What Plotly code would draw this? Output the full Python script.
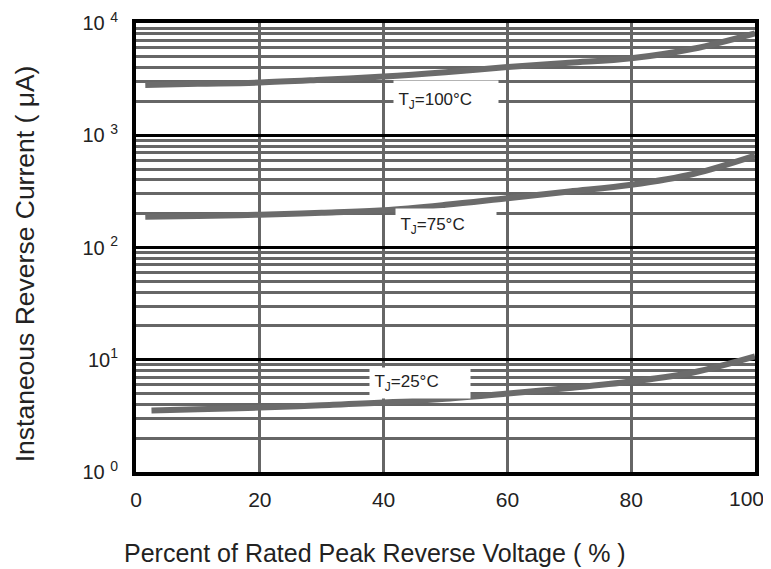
import plotly.graph_objects as go

# ---- data ----
x_100 = [1.5, 10, 20, 30, 40, 50, 60, 70, 80, 90, 100]
i_100 = [2800, 2870, 2950, 3120, 3330, 3640, 4050, 4420, 4850, 5900, 8100]

x_75 = [1.5, 10, 20, 30, 40, 50, 60, 70, 80, 90, 100]
i_75 = [188, 191, 196, 204, 215, 240, 275, 315, 362, 452, 660]

x_25 = [2.5, 10, 20, 30, 40, 50, 60, 70, 80, 90, 100]
i_25 = [3.53, 3.62, 3.75, 3.93, 4.15, 4.5, 5.0, 5.6, 6.4, 7.7, 10.7]

labels = ["T<sub>J</sub>=100°C", "T<sub>J</sub>=75°C", "T<sub>J</sub>=25°C"]
label_x = [41.5, 41.8, 37.6]
label_y = [101, 226, 382.5]  # reference pixel rows of label centres (converted below)

x_title = "Percent of Rated Peak Reverse Voltage ( % )"
y_title = "Instaneous Reverse Current ( μA)"

y_tickvals = [1, 10, 100, 1000, 10000]
y_ticktext = ["10 <sup>0</sup>", "10<sup>1</sup>", "10 <sup>2</sup>", "10 <sup>3</sup>", "10 <sup>4</sup>"]
x_tickvals = [0, 20, 40, 60, 80, 100]
x_ticktext = ["0", "20", "40", "60", "80", ""]
x_last_label = "100"
minor_vals = [m * 10 ** d for d in range(4) for m in range(2, 10)]

curve_color = "#6b6b6b"
grid_gray = "#666666"
font_family = "Liberation Sans, Arial, sans-serif"

fig = go.Figure()
for xs, ys in [(x_100, i_100), (x_75, i_75), (x_25, i_25)]:
    fig.add_trace(go.Scatter(x=xs, y=ys, mode="lines",
                             line=dict(color=curve_color, width=6, shape="spline"),
                             showlegend=False, hoverinfo="skip"))

# label boxes (white background hides gridlines)
top, bottom = 23, 472
def pix_to_log(p):
    return (bottom - p) / (bottom - top) * 4

box_w = [104, 100, 100]
box_h = [40, 34, 30]
for t, lx, ly, w, h in zip(labels, label_x, label_y, box_w, box_h):
    fig.add_annotation(x=lx, y=pix_to_log(ly), xref="x", yref="y", text=" " + t,
                       showarrow=False, xanchor="left", yanchor="middle",
                       align="left", width=w, height=h, bgcolor="white",
                       borderpad=0,
                       font=dict(family=font_family, size=17, color="#222222"))

# last x tick label sits slightly left of its tick in the reference
fig.add_annotation(x=x_tickvals[-1], y=-0.058, xref="x", yref="paper", text=x_last_label,
                   showarrow=False, xanchor="center", yanchor="middle", xshift=-9,
                   font=dict(family=font_family, size=21, color="#222222"))

# axis titles placed as paper annotations (reference titles are off-centre)
fig.add_annotation(x=0.386, y=-0.180, xref="paper", yref="paper", text=x_title,
                   showarrow=False, xanchor="center", yanchor="middle",
                   font=dict(family=font_family, size=25, color="#222222"))
fig.add_annotation(x=-0.179, y=0.463, xref="paper", yref="paper", text=y_title,
                   showarrow=False, xanchor="center", yanchor="middle", textangle=-90,
                   font=dict(family=font_family, size=26.5, color="#222222"))

# page body has an 8px default margin, so the figure is offset by 8px
fig.update_layout(
    width=771, height=569,
    margin=dict(l=128, r=24, t=15, b=105),
    paper_bgcolor="white", plot_bgcolor="white",
    font=dict(family=font_family, color="#222222"),
)
fig.update_xaxes(
    range=[0, 100], tickvals=x_tickvals, ticktext=x_ticktext, ticks="",
    showgrid=True, gridcolor=grid_gray, gridwidth=3,
    zeroline=False, automargin=False, ticklabeloverflow="allow",
    showline=True, linecolor="black", linewidth=4, mirror=True,
    tickfont=dict(size=21, color="#222222"), ticklabelstandoff=6,
)
fig.update_yaxes(
    type="log", range=[0, 4], tickvals=y_tickvals, ticktext=y_ticktext, ticks="",
    showgrid=True, gridcolor="black", gridwidth=3,
    minor=dict(tickvals=minor_vals, showgrid=True, gridcolor=grid_gray, gridwidth=3, ticks=""),
    zeroline=False, automargin=False, ticklabeloverflow="allow",
    showline=True, linecolor="black", linewidth=4, mirror=True,
    tickfont=dict(size=20, color="#222222"), ticklabelstandoff=10,
)

fig.write_html("out.html")
